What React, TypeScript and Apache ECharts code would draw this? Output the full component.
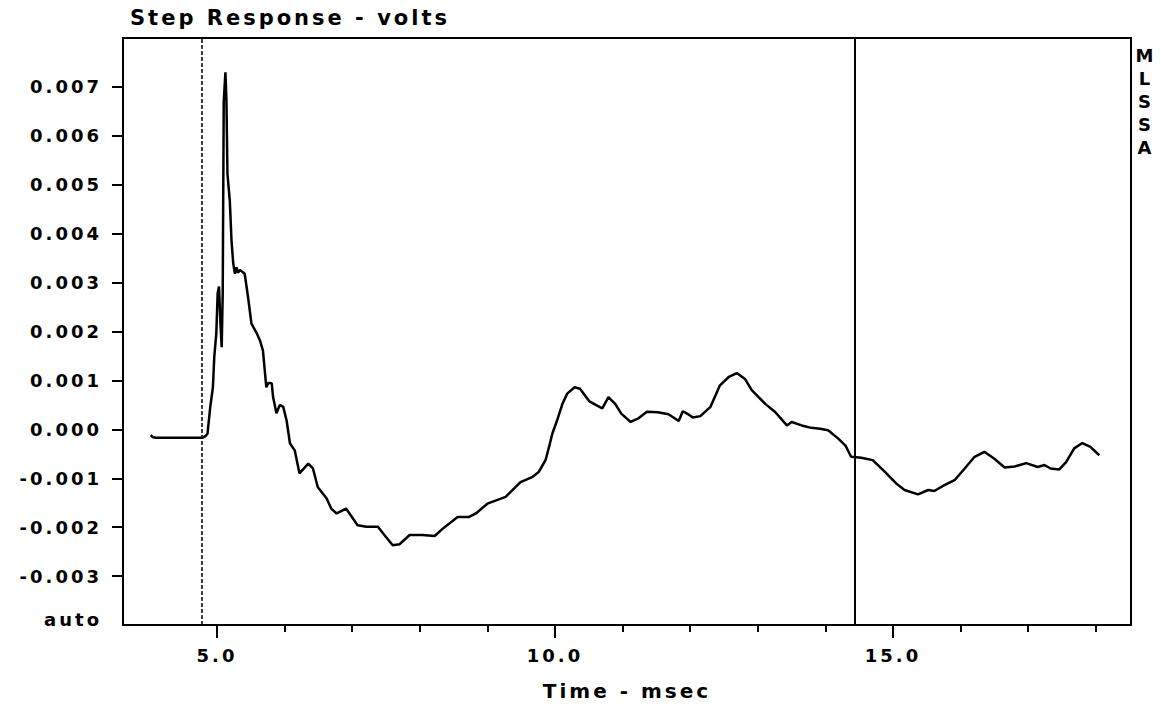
import { useEffect, useRef } from "react";
import * as echarts from "echarts";

// Step response of the measured system: time in msec, amplitude in millivolts
const timeMs = [
  4.02, 4.05, 4.1, 4.4, 4.79, 4.83, 4.86, 4.9, 4.94, 4.96, 4.99, 5.01, 5.03, 5.05,
  5.07, 5.085, 5.1, 5.125, 5.14, 5.155, 5.19, 5.215, 5.24, 5.265, 5.29, 5.31, 5.34,
  5.41, 5.46, 5.51, 5.59, 5.64, 5.68, 5.73, 5.76, 5.81, 5.83, 5.88, 5.93, 5.98, 6.03,
  6.08, 6.15, 6.22, 6.35, 6.42, 6.49, 6.62, 6.69, 6.77, 6.91, 7.08, 7.21, 7.38, 7.5,
  7.6, 7.7, 7.85, 8.04, 8.22, 8.34, 8.56, 8.73, 8.83, 9.0, 9.27, 9.49, 9.67, 9.76,
  9.86, 9.91, 9.96, 10.03, 10.11, 10.18, 10.29, 10.37, 10.51, 10.63, 10.7, 10.79,
  10.89, 10.98, 11.12, 11.24, 11.36, 11.52, 11.68, 11.83, 11.89, 11.98, 12.04, 12.15,
  12.3, 12.44, 12.57, 12.69, 12.81, 12.91, 13.11, 13.26, 13.43, 13.5, 13.65, 13.79,
  13.92, 14.04, 14.19, 14.3, 14.38, 14.53, 14.7, 14.88, 15.05, 15.17, 15.37, 15.52,
  15.61, 15.76, 15.91, 16.06, 16.2, 16.35, 16.5, 16.65, 16.8, 16.97, 17.14, 17.24,
  17.33, 17.46, 17.56, 17.68, 17.8, 17.92, 18.05,
];
const stepMv = [
  -0.12, -0.16, -0.17, -0.17, -0.17, -0.14, -0.09, 0.45, 0.86, 1.48, 1.96, 2.78, 2.92, 2.2,
  1.68, 2.78, 6.7, 7.3, 6.72, 5.22, 4.67, 3.86, 3.4, 3.18, 3.31, 3.2, 3.26,
  3.18, 2.7, 2.16, 1.96, 1.8, 1.61, 0.86, 0.95, 0.94, 0.66, 0.33, 0.5, 0.46, 0.18,
  -0.29, -0.43, -0.9, -0.7, -0.8, -1.18, -1.41, -1.62, -1.72, -1.62, -1.96, -1.99, -1.99, -2.2,
  -2.37, -2.35, -2.16, -2.16, -2.18, -2.03, -1.79, -1.79, -1.72, -1.52, -1.38, -1.08, -0.97, -0.87,
  -0.63, -0.37, -0.09, 0.18, 0.52, 0.73, 0.86, 0.83, 0.57, 0.48, 0.43, 0.66,
  0.52, 0.32, 0.15, 0.23, 0.36, 0.35, 0.31, 0.17, 0.37, 0.3, 0.24, 0.27,
  0.46, 0.9, 1.07, 1.15, 1.03, 0.8, 0.52, 0.35, 0.08, 0.15, 0.08, 0.03,
  0.01, -0.02, -0.19, -0.34, -0.56, -0.58, -0.63, -0.87, -1.11, -1.24, -1.33, -1.24,
  -1.26, -1.14, -1.04, -0.8, -0.57, -0.46, -0.6, -0.78, -0.76, -0.69, -0.77, -0.73,
  -0.8, -0.82, -0.67, -0.39, -0.28, -0.36, -0.53,
];

// Axis ticks and labels
const xMajorTicks = [5, 10, 15];
const xMinorTicks = [6, 7, 8, 9, 11, 12, 13, 14, 16, 17, 18];
const yTicks = [-3, -2, -1, 0, 1, 2, 3, 4, 5, 6, 7];

// Cursor positions (msec)
const startCursor = 4.78;
const endCursor = 14.44;

const FONT = '"DejaVu Sans", sans-serif';

export default function App() {
  const ref = useRef<HTMLDivElement>(null);

  useEffect(() => {
    if (!ref.current) return;
    const chart = echarts.init(ref.current, null, { renderer: "svg" });
    const points = timeMs.map((t, i) => [t, stepMv[i]]);
    const labelStyle = {
      color: "#000",
      fontFamily: FONT,
      fontWeight: "bold" as const,
      fontSize: 18,
    };

    chart.setOption({
      animation: false,
      backgroundColor: "#fff",
      title: {
        text: "Step Response - volts",
        left: 130,
        top: 7,
        padding: 0,
        textStyle: { color: "#000", fontFamily: FONT, fontWeight: "bold", fontSize: 21 },
      },
      graphic: [
        {
          type: "text",
          x: 1146,
          y: 44,
          style: {
            text: "M\nL\nS\nS\nA",
            fill: "#000",
            font: `bold 18px ${FONT}`,
            lineHeight: 23,
            align: "center",
            verticalAlign: "top",
          },
        },
      ],
      grid: {
        left: 123,
        right: 30,
        top: 38,
        bottom: 82,
        show: true,
        borderColor: "#000",
        borderWidth: 2,
        backgroundColor: "transparent",
        containLabel: false,
        outerBoundsMode: "none",
      },
      xAxis: [
        {
          type: "value",
          position: "bottom",
          min: 3.61,
          max: 18.52,
          axisLine: { show: true, onZero: false, lineStyle: { color: "#000", width: 2 } },
          axisTick: {
            show: true,
            customValues: xMajorTicks,
            length: 13,
            lineStyle: { color: "#000", width: 2 },
          },
          axisLabel: {
            ...labelStyle,
            customValues: xMajorTicks,
            margin: 21,
            formatter: (v: number) => v.toFixed(1),
          },
          splitLine: { show: false },
          name: "Time - msec",
          nameLocation: "middle",
          nameGap: 56,
          nameTextStyle: { color: "#000", fontFamily: FONT, fontWeight: "bold", fontSize: 20 },
        },
        {
          type: "value",
          position: "bottom",
          min: 3.61,
          max: 18.52,
          axisLine: { show: false, onZero: false },
          axisTick: {
            show: true,
            customValues: xMinorTicks,
            length: 7,
            lineStyle: { color: "#000", width: 2 },
          },
          axisLabel: { show: false },
          splitLine: { show: false },
        },
      ],
      yAxis: {
        type: "value",
        min: -4,
        max: 8,
        interval: 1,
        axisLine: { show: true, onZero: false, lineStyle: { color: "#000", width: 2 } },
        axisTick: {
          show: true,
          customValues: yTicks,
          length: 11,
          lineStyle: { color: "#000", width: 2 },
        },
        axisLabel: {
          ...labelStyle,
          margin: 21,
          formatter: (v: number) => {
            if (v === -4) return "{auto|auto}";
            if (v === 8) return "";
            return (v / 1000).toFixed(3);
          },
          rich: {
            auto: { ...labelStyle, padding: [0, 0, 12, 0] },
          },
        },
        splitLine: { show: false },
      },
      series: [
        {
          type: "line",
          xAxisIndex: 0,
          data: points,
          showSymbol: false,
          symbol: "none",
          lineStyle: { color: "#000", width: 2.5 },
          markLine: {
            silent: true,
            symbol: ["none", "none"],
            label: { show: false },
            data: [
              { xAxis: startCursor, lineStyle: { color: "#000", type: [4, 2], width: 1.5 } },
              { xAxis: endCursor, lineStyle: { color: "#000", type: "solid", width: 2 } },
            ],
          },
        },
      ],
    });

    return () => chart.dispose();
  }, []);

  return (
    <>
      <style>{`body{margin:0} .mlssa-chart text{letter-spacing:3px}`}</style>
      <div ref={ref} className="mlssa-chart" style={{ width: 1161, height: 707 }} />
    </>
  );
}
